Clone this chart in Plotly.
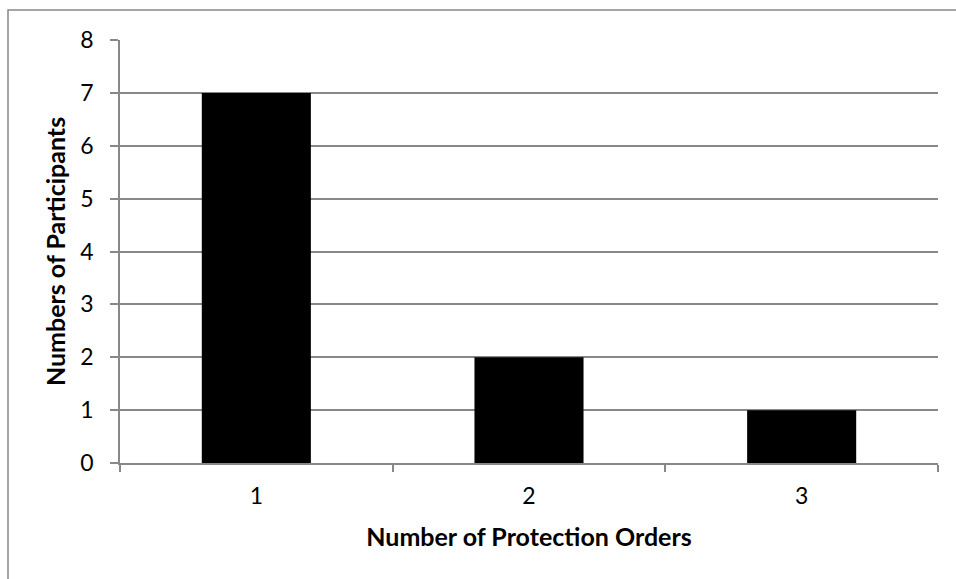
import plotly.graph_objects as go

# Participants grouped by how many protection orders they hold
orders = ["1", "2", "3"]
participants = [7, 2, 1]

y_ticks = list(range(0, 9))

GRID = "#888888"
FONT = "Lato, Calibri, 'Liberation Sans', sans-serif"

fig = go.Figure(
    go.Bar(
        x=orders,
        y=participants,
        marker=dict(color="black", line=dict(width=0)),
        width=0.4,
    )
)

fig.update_layout(
    width=956,
    height=579,
    margin=dict(l=120, r=18, t=40, b=116),
    paper_bgcolor="white",
    plot_bgcolor="white",
    showlegend=False,
    font=dict(family=FONT, size=24, color="black"),
    bargap=0.6,
)

fig.update_xaxes(
    type="category",
    tickson="boundaries",
    ticks="outside",
    ticklen=7,
    tickwidth=1.5,
    tickcolor=GRID,
    showline=True,
    linecolor=GRID,
    linewidth=1.5,
    showgrid=False,
    tickfont=dict(size=23),
    ticklabelstandoff=12,
    title=dict(text="<b>Number of Protection Orders</b>", font=dict(size=25), standoff=20),
)

fig.update_yaxes(
    range=[0, 8],
    tickvals=y_ticks,
    ticks="outside",
    ticklen=8,
    tickwidth=1.5,
    tickcolor=GRID,
    showline=True,
    linecolor=GRID,
    linewidth=1.5,
    showgrid=True,
    gridcolor=GRID,
    gridwidth=1.5,
    zeroline=False,
    ticklabelstandoff=12,
    tickfont=dict(size=23),
    title=dict(text="<b>Numbers of Participants</b>", font=dict(size=25), standoff=8),
)

# Outer chart frame (continues past the right and bottom edges)
fig.add_shape(
    type="rect",
    xref="paper",
    yref="paper",
    x0=(8 - 120) / 818,
    x1=1.2,
    y0=-0.6,
    y1=1 + 30 / 424,
    line=dict(color=GRID, width=1.5),
    fillcolor="rgba(0,0,0,0)",
    layer="below",
)

fig.write_html("out.html")
